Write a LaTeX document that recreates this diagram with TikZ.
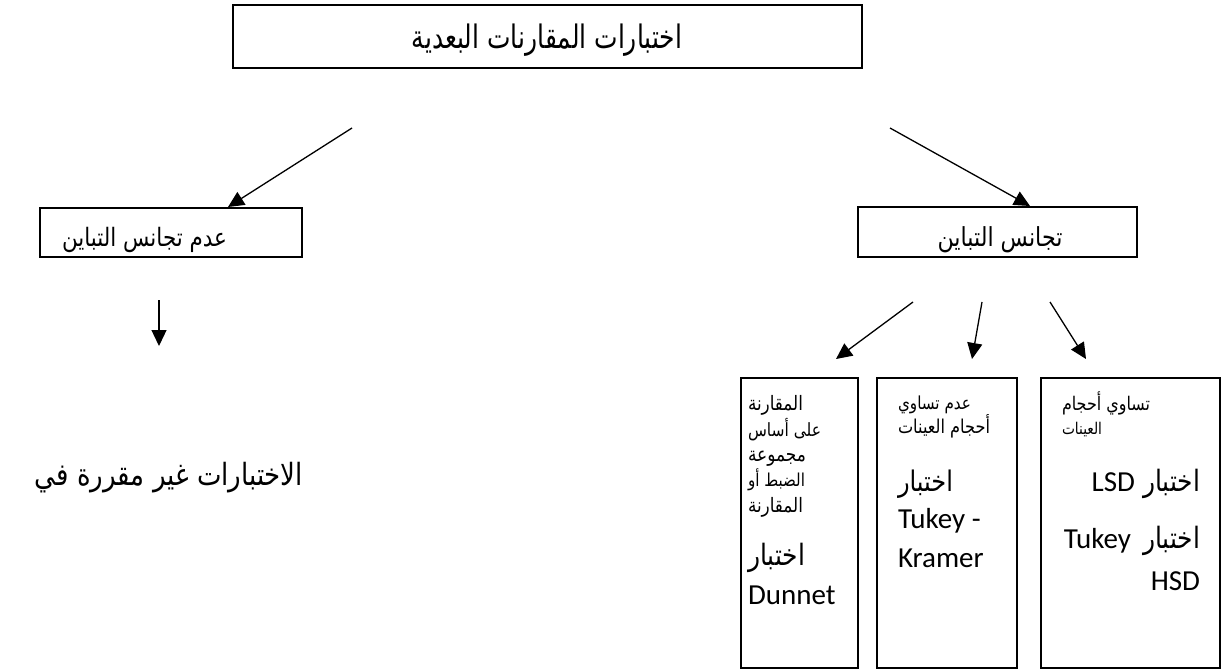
\documentclass[tikz,border=0pt]{standalone}
\usepackage{fontspec}
\newfontfamily\arabicfont[Script=Arabic]{DejaVu Sans}
\newfontfamily\latinfont{Carlito}
\TeXXeTstate=1
\usetikzlibrary{arrows.meta}
\newcommand\arw[2]{\scalebox{1}[1.18]{\resizebox{#1pt}{!}{\arabicfont #2}}}
\begin{document}
\begin{tikzpicture}[x=1pt,y=-1pt,
  box/.style={draw,line width=1.4pt,inner sep=0pt,outer sep=0pt,anchor=north west},
  arr/.style={line width=1.3pt,-{Triangle[length=16pt,width=15pt]}},
  txt/.style={inner sep=0pt,outer sep=0pt},
  lat/.style={txt,font=\latinfont\fontsize{29}{34}\selectfont}]
\useasboundingbox (0,0) rectangle (1223,671);
% boxes
\node[box,line width=2.2pt,minimum width=629pt,minimum height=63pt] (top) at (233,5) {};
\node[box,minimum width=262pt,minimum height=49pt] (lbox) at (40,208) {};
\node[box,minimum width=279pt,minimum height=50pt] (rbox) at (858,207) {};
\node[box,minimum width=117pt,minimum height=290pt] (b1) at (741,378) {};
\node[box,minimum width=140pt,minimum height=290pt] (b2) at (877,378) {};
\node[box,minimum width=179pt,minimum height=290pt] (b3) at (1041,378) {};
% texts
\node[txt,anchor=base] (toptxt) at (547,49) {\scalebox{1}[1.1]{\arw{270}{\beginR اختبارات المقارنات البعدية\endR}}};
\node[txt,anchor=base west] (ltxt) at (62,246) {\arw{165}{\beginR عدم تجانس التباين\endR}};
\node[txt,anchor=base] (rtxt) at (1000,246) {\arw{125}{\beginR تجانس التباين\endR}};
\node[txt,anchor=base east] (big) at (303,485) {\arw{268}{\beginR الاختبارات غير مقررة في\endR}};
% box 3
\node[txt,anchor=base west] (b3a) at (1062,410) {\arw{88}{\beginR تساوي أحجام\endR}};
\node[txt,anchor=base west] (b3b) at (1062,434) {\arw{40}{\beginR العينات\endR}};
\node[txt,anchor=base east] (b3c) at (1200,491) {\arw{57}{\beginR اختبار\endR}};
\node[lat,anchor=base east,xshift=-8pt] (b3d) at (b3c.base west) {LSD};
\node[txt,anchor=base east] (b3e) at (1200,548) {\arw{57}{\beginR اختبار\endR}};
\node[lat,anchor=base east,xshift=-12pt] (b3f) at (b3e.base west) {Tukey};
\node[lat,anchor=base east] (b3g) at (1200,590) {HSD};
% box 2
\node[txt,anchor=base west] (b2a) at (898,409) {\arw{73}{\beginR عدم تساوي\endR}};
\node[txt,anchor=base west] (b2b) at (898,433) {\arw{92}{\beginR أحجام العينات\endR}};
\node[txt,anchor=base west] (b2c) at (898,491) {\arw{55}{\beginR اختبار\endR}};
\node[lat,anchor=base west] (b2d) at (898,528) {Tukey -};
\node[lat,anchor=base west] (b2e) at (898,567) {Kramer};
% box 1
\node[txt,anchor=base west] (b1a) at (748,410) {\arw{55}{\beginR المقارنة\endR}};
\node[txt,anchor=base west] (b1b) at (748,436) {\arw{73}{\beginR على أساس\endR}};
\node[txt,anchor=base west] (b1c) at (748,461) {\arw{58}{\beginR مجموعة\endR}};
\node[txt,anchor=base west] (b1d) at (748,486) {\arw{57}{\beginR الضبط أو\endR}};
\node[txt,anchor=base west] (b1e) at (748,512) {\arw{55}{\beginR المقارنة\endR}};
\node[txt,anchor=base west] (b1f) at (748,565) {\arw{57}{\beginR اختبار\endR}};
\node[lat,anchor=base west] (b1g) at (748,604) {Dunnet};
% connectors
\coordinate (s1) at (352,128);
\coordinate (e1) at (228,207);
\coordinate (s2) at (890,128);
\coordinate (e2) at (1030,206);
\coordinate (s3) at (159,300);
\coordinate (e3) at (159,346);
\coordinate (s4) at (913,302);
\coordinate (e4) at (836,359);
\coordinate (s5) at (982,302);
\coordinate (e5) at (972,359);
\coordinate (s6) at (1050,302);
\coordinate (e6) at (1086,359);
\draw[arr] (s1) -- (e1);
\draw[arr] (s2) -- (e2);
\draw[arr] (s3) -- (e3);
\draw[arr] (s4) -- (e4);
\draw[arr] (s5) -- (e5);
\draw[arr] (s6) -- (e6);
\end{tikzpicture}
\end{document}
